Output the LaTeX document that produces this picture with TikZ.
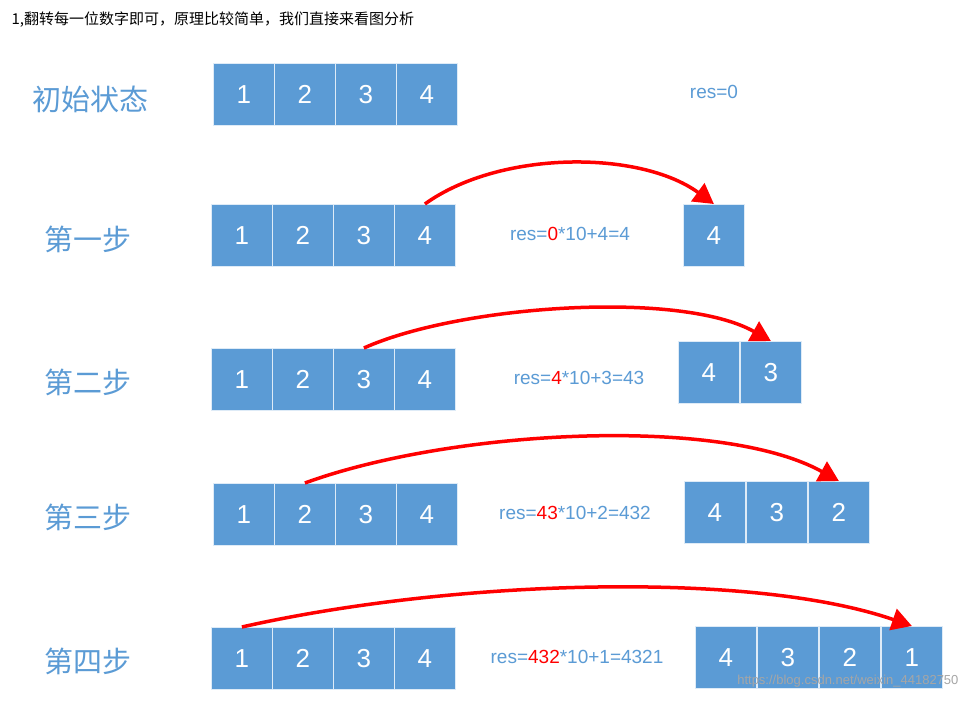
\documentclass[tikz,border=0pt]{standalone}
\usepackage{fontspec}
\setmainfont{Liberation Sans}
\newfontfamily\cjk{Noto Sans CJK SC}
\usetikzlibrary{arrows.meta}
\definecolor{cellblue}{HTML}{5B9BD5}
\definecolor{lblblue}{HTML}{5B9BD5}
\begin{document}
\begin{tikzpicture}[x=1pt,y=-1pt,
  cell/.style={fill=cellblue,draw=white!80!cellblue,line width=0.8pt,minimum width=61pt,minimum height=62pt,inner sep=0pt,text=white,font=\fontsize{26}{26}\selectfont,anchor=north west},
  steplbl/.style={text=lblblue,font=\cjk\fontsize{29}{29}\selectfont},
  reslbl/.style={text=lblblue,font=\fontsize{19}{19}\selectfont},
  hl/.style={text=red},
  arc/.style={red,line width=3.5pt,-{Triangle[length=20pt,width=22pt]}}]
\useasboundingbox[fill=white] (0,0) rectangle (967,701);
\node[anchor=west,font=\cjk\fontsize{15}{15}\selectfont] (top) at (8,20) {1,翻转每一位数字即可，原理比较简单，我们直接来看图分析};
% row 0
\node[steplbl] (s0) at (90,99) {初始状态};
\foreach \i/\v in {0/1,1/2,2/3,3/4}{\node[cell] (a\v) at (213+61*\i,63) {\v};}
\node[reslbl] (r0) at (714,92) {res=0};
% row 1
\node[steplbl] (s1) at (88,239) {第一步};
\foreach \i/\v in {0/1,1/2,2/3,3/4}{\node[cell] (b\v) at (211+61*\i,204) {\v};}
\node[reslbl] (r1) at (570,234) {res=\textcolor{red}{0}*10+4=4};
\node[cell] (bo1) at (683,204) {4};
\draw[arc] (b4.north) .. controls (500,150) and (640,150) .. (bo1.north);
% row 2
\node[steplbl] (s2) at (88,382) {第二步};
\foreach \i/\v in {0/1,1/2,2/3,3/4}{\node[cell] (c\v) at (211+61*\i,348) {\v};}
\node[reslbl] (r2) at (579,378) {res=\textcolor{red}{4}*10+3=43};
\foreach \i/\v in {0/4,1/3}{\node[cell] (co\v) at (678+62*\i,341) {\v};}
\draw[arc] (c3.north) .. controls (460,305) and (680,290) .. (co3.north);
% row 3
\node[steplbl] (s3) at (88,517) {第三步};
\foreach \i/\v in {0/1,1/2,2/3,3/4}{\node[cell] (d\v) at (213+61*\i,483) {\v};}
\node[reslbl] (r3) at (575,513) {res=\textcolor{red}{43}*10+2=432};
\foreach \i/\v in {0/4,1/3,2/2}{\node[cell] (do\v) at (684+62*\i,481) {\v};}
\draw[arc] (d2.north) .. controls (450,430) and (720,415) .. (do2.north);
% row 4
\node[steplbl] (s4) at (88,661) {第四步};
\foreach \i/\v in {0/1,1/2,2/3,3/4}{\node[cell] (e\v) at (211+61*\i,627) {\v};}
\node[reslbl] (r4) at (577,657) {res=\textcolor{red}{432}*10+1=4321};
\foreach \i/\v in {0/4,1/3,2/2,3/1}{\node[cell] (eo\v) at (695+62*\i,626) {\v};}
\draw[arc] (e1.north) .. controls (450,580) and (750,570) .. (eo1.north);
\node[anchor=east,text=gray!70,font=\fontsize{13}{13}\selectfont] (wm) at (962,681) {https://blog.csdn.net/weixin\_44182750};
\end{tikzpicture}
\end{document}
